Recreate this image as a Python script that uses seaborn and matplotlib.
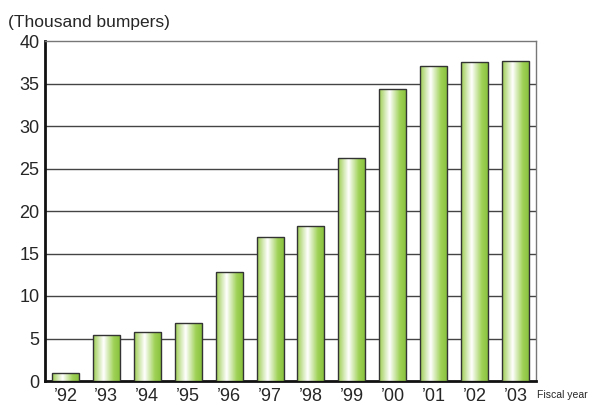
import numpy as np
import pandas as pd
import matplotlib
matplotlib.use("Agg")
import matplotlib.pyplot as plt
import seaborn as sns
from matplotlib.colors import LinearSegmentedColormap

years = ["’92", "’93", "’94", "’95", "’96", "’97", "’98", "’99", "’00", "’01", "’02", "’03"]
values = [0.9, 5.4, 5.8, 6.8, 12.8, 16.9, 18.2, 26.2, 34.3, 37.1, 37.5, 37.7]
yticks = [0, 5, 10, 15, 20, 25, 30, 35, 40]

df = pd.DataFrame({"year": years, "value": values})

sns.set_style("white")
plt.rcParams['font.family'] = ['Liberation Sans', 'DejaVu Sans']

fig = plt.figure(figsize=(5.93, 4.05), dpi=100)
ax = fig.add_axes([45/593, 1 - 381/405, (536 - 45)/593, (381 - 41)/405])

sns.barplot(data=df, x="year", y="value", color="#8cc63f", width=0.66,
            edgecolor="#333333", linewidth=1.0, ax=ax, zorder=3)

cmap = LinearSegmentedColormap.from_list(
    "g", [(0.0, "#9ccd50"), (0.38, "#ffffff"), (0.75, "#9ed155"), (1.0, "#86c03a")])
grad = np.linspace(0, 1, 256).reshape(1, -1)
for p in ax.patches:
    x0, y0 = p.get_x(), p.get_y()
    w, h = p.get_width(), p.get_height()
    im = ax.imshow(grad, cmap=cmap, aspect="auto",
                   extent=[x0, x0 + w, y0, y0 + h], zorder=3.5)
    im.set_clip_path(p)
    p.set_facecolor("none")
    p.set_zorder(4)

ax.set_xlim(-0.5, len(years) - 0.5)
ax.set_ylim(0, 40)
ax.set_yticks(yticks)
ax.set_yticklabels([str(t) for t in yticks], fontsize=13)
ax.tick_params(axis="x", labelsize=13, length=0, pad=5)
ax.tick_params(axis="y", length=0, pad=4)
ax.set_xlabel("")
ax.set_ylabel("")

for t in yticks[1:-1]:
    ax.axhline(t, color="#444444", linewidth=1.0, zorder=1)

for s in ["left", "bottom"]:
    ax.spines[s].set_color("#111111")
    ax.spines[s].set_linewidth(2.0)
for s in ["top", "right"]:
    ax.spines[s].set_color("#777777")
    ax.spines[s].set_linewidth(1.0)

fig.text(8/593, 1 - 22/405, "(Thousand bumpers)", fontsize=12.5, va="center", ha="left")
fig.text(537/593, 1 - 395/405, "Fiscal year", fontsize=7.5, va="center", ha="left")

fig.savefig("out.png", dpi=100)
